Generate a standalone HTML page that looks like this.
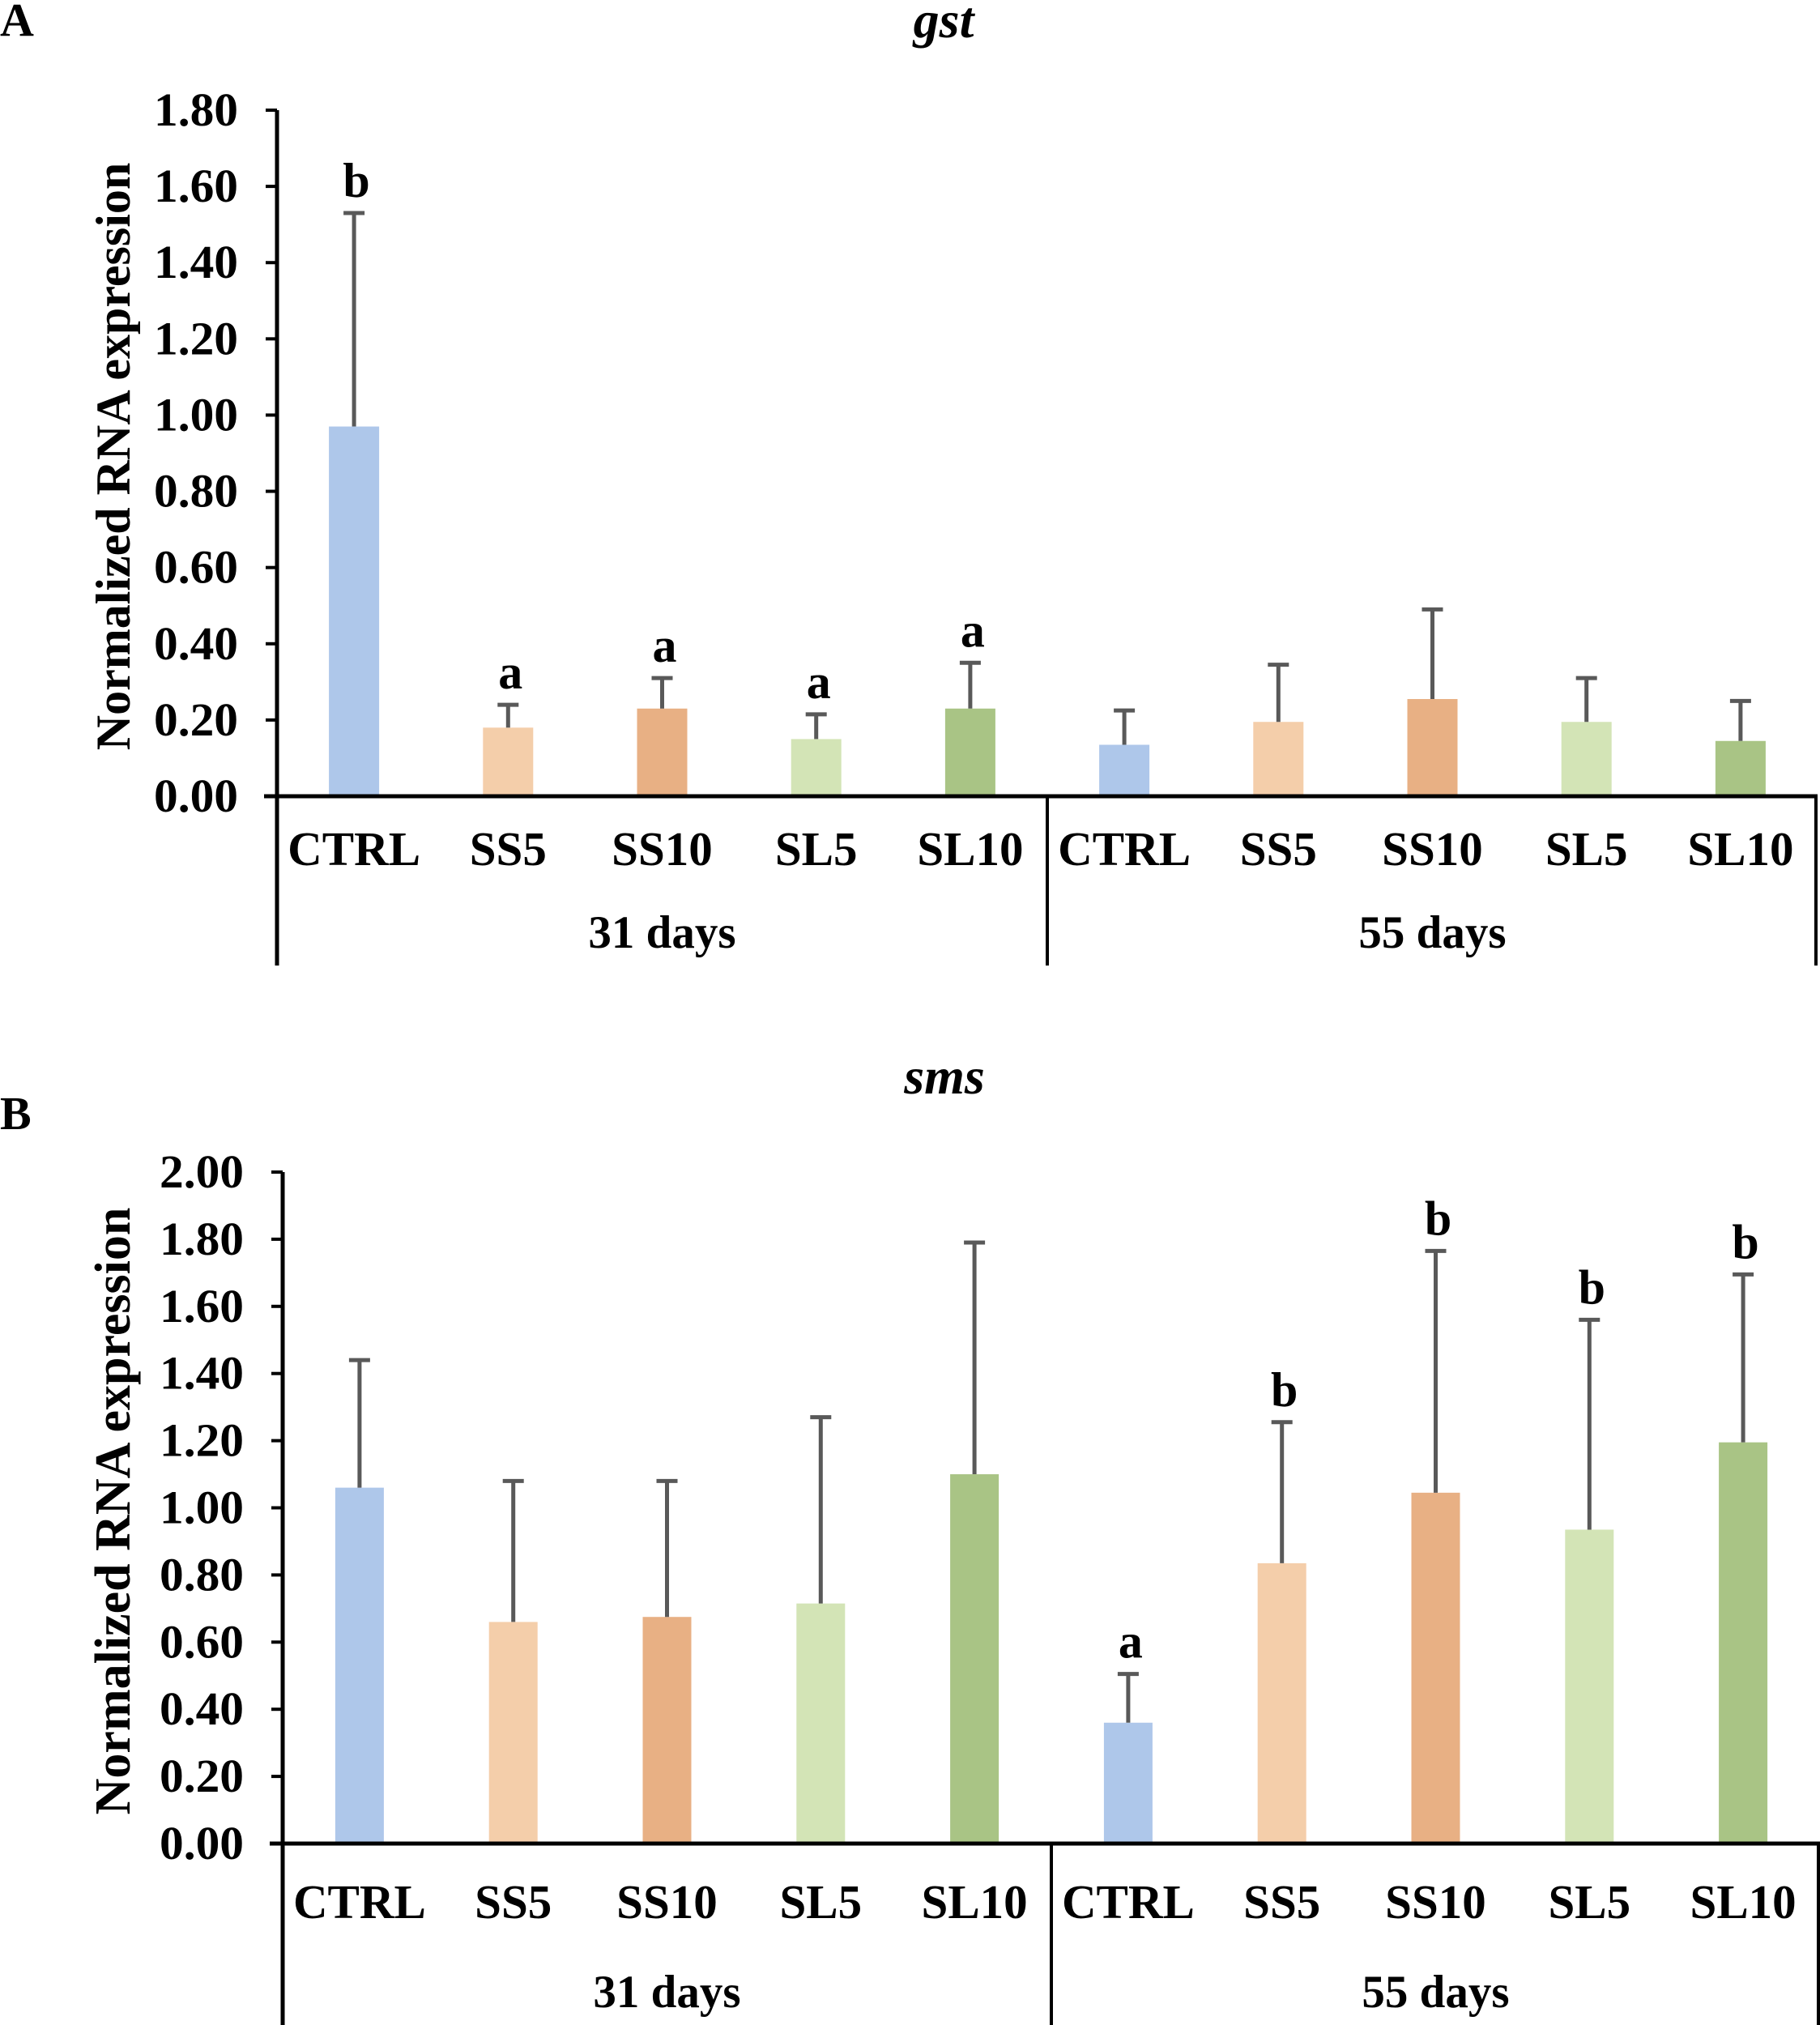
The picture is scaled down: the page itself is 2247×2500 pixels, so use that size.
<!DOCTYPE html>
<html><head><meta charset="utf-8"><style>
html,body{margin:0;padding:0;background:#fff;}
svg{display:block;}
text{font-family:"Liberation Serif",serif;font-weight:bold;fill:#000;}
</style></head><body>
<svg id="fig" width="2247" height="2500" viewBox="0 0 2247 2500"></svg>
<script>
const categories = ["CTRL","SS5","SS10","SL5","SL10","CTRL","SS5","SS10","SL5","SL10"];
const groups = ["31 days","55 days"];
const colors = ["#AEC7EA","#F4CEAA","#E8B084","#D3E4B6","#A9C485"];
const gstValues = [0.97,0.18,0.23,0.15,0.23,0.135,0.195,0.255,0.195,0.145];
const gstErrTop = [1.53,0.24,0.31,0.215,0.35,0.225,0.345,0.49,0.31,0.25];
const gstLetters = ["b","a","a","a","a","","","","",""];
const gstTicks = ["0.00","0.20","0.40","0.60","0.80","1.00","1.20","1.40","1.60","1.80"];
const smsValues = [1.06,0.66,0.675,0.715,1.10,0.36,0.835,1.045,0.935,1.195];
const smsErrTop = [1.44,1.08,1.08,1.27,1.79,0.505,1.255,1.765,1.56,1.695];
const smsLetters = ["","","","","","a","b","b","b","b"];
const smsTicks = ["0.00","0.20","0.40","0.60","0.80","1.00","1.20","1.40","1.60","1.80","2.00"];

const svg = document.getElementById('fig');
const NS = "http://www.w3.org/2000/svg";
function mk(tag, attrs, parent, txt){
  const e = document.createElementNS(NS, tag);
  for (const k in attrs) e.setAttribute(k, attrs[k]);
  if (txt !== undefined) e.textContent = txt;
  (parent||svg).appendChild(e);
  return e;
}

function panel(cfg){
  const g = mk('g', {});
  
  
  const ymax = parseFloat(cfg.ticks[cfg.ticks.length-1]);
  const yScale = v => cfg.y0 - (v / ymax) * (cfg.y0 - cfg.yTop);
  const n = categories.length;
  const step = (cfg.xEnd - cfg.x0) / n;
  const xScale = i => cfg.x0 + step * (i + 0.5);

  const pl = mk('text', {x: cfg.labelX, y: cfg.labelY, 'font-size': 58}, g, cfg.panelLabel);
  
  
  const t = mk('text', {x: cfg.titleX, y: cfg.titleY, 'font-size': 64, 'font-style': 'italic', 'text-anchor': 'middle'}, g, cfg.title);
  
  

  const yt = mk('text', {x: 0, y: 0, 'font-size': cfg.ytSize, 'text-anchor': 'middle', transform: `translate(160 ${(cfg.y0+cfg.yTop)/2+4}) rotate(-90)`}, g, 'Normalized RNA expression');
  
  

  cfg.ticks.forEach(lbl => {
    const v = parseFloat(lbl);
    const y = yScale(v);
    const tk = mk('line', {x1: cfg.x0-14, x2: cfg.x0, y1: y, y2: y, stroke: '#000', 'stroke-width': 4}, g);
    
    
    const tl = mk('text', {x: cfg.x0-48, y: y+19, 'font-size': 58, 'text-anchor': 'end', textLength: 104, lengthAdjust: 'spacingAndGlyphs'}, g, lbl);
    
    
  });

  categories.forEach((c, i) => {
    const v = cfg.values[i], e = cfg.errTop[i];
    const cx = xScale(i);
    const b = mk('rect', {x: cx - cfg.barW/2, y: yScale(v), width: cfg.barW, height: cfg.y0 - yScale(v), fill: colors[i % 5]}, g);
    
    
    const el = mk('line', {x1: cx, x2: cx, y1: yScale(v), y2: yScale(e), stroke: '#595959', 'stroke-width': 5}, g);
    
    
    const cap = mk('line', {x1: cx-13, x2: cx+13, y1: yScale(e), y2: yScale(e), stroke: '#595959', 'stroke-width': 5}, g);
    
    
    if (cfg.letters[i]) {
      const lt = mk('text', {x: cx+3, y: yScale(e) - 20, 'font-size': 60, 'text-anchor': 'middle'}, g, cfg.letters[i]);
      
      
    }
    const cl = mk('text', {x: cx, y: cfg.catY, 'font-size': 59, 'text-anchor': 'middle'}, g, c);
    
    
  });

  const ya = mk('line', {x1: cfg.x0, x2: cfg.x0, y1: cfg.yTop, y2: cfg.frameBottom, stroke: '#000', 'stroke-width': 5}, g);
  
  
  const xa = mk('line', {x1: cfg.x0-16, x2: cfg.xEnd, y1: cfg.y0, y2: cfg.y0, stroke: '#000', 'stroke-width': 5}, g);
  
  
  const sepX = cfg.x0 + step * 5;
  const sp = mk('line', {x1: sepX, x2: sepX, y1: cfg.y0, y2: cfg.frameBottom, stroke: '#000', 'stroke-width': 4}, g);
  
  
  const rb = mk('line', {x1: cfg.xEnd-2, x2: cfg.xEnd-2, y1: cfg.y0, y2: cfg.frameBottom, stroke: '#000', 'stroke-width': 4}, g);
  
  
  groups.forEach((gr, k) => {
    const gx = cfg.x0 + step * (5*k + 2.5);
    const gl = mk('text', {x: gx, y: cfg.groupY, 'font-size': 57, 'text-anchor': 'middle'}, g, gr);
    
    
  });
}

panel({name:'panel-a-gst', panelLabel:'A', labelX:0, labelY:44, title:'gst', titleX:1165, titleY:46, ytSize:60,
  x0:342, xEnd:2244, y0:983, yTop:136, frameBottom:1192, catY:1068, groupY:1170, barW:62,
  ticks:gstTicks, values:gstValues, errTop:gstErrTop, letters:gstLetters});
panel({name:'panel-b-sms', panelLabel:'B', labelX:0, labelY:1394, title:'sms', titleX:1166, titleY:1350, ytSize:62,
  x0:349, xEnd:2247, y0:2276, yTop:1447, frameBottom:2500, catY:2368, groupY:2478, barW:60,
  ticks:smsTicks, values:smsValues, errTop:smsErrTop, letters:smsLetters});
</script>
</body></html>
